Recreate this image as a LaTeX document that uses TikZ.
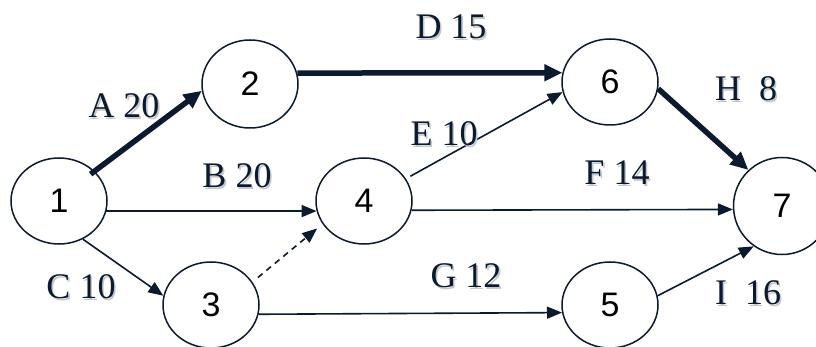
\documentclass[tikz,border=0pt]{standalone}
\usepackage{fontspec}
\setmainfont{Liberation Serif}
\newfontfamily\numfont{Liberation Sans}
\usetikzlibrary{arrows.meta,shapes.geometric,calc}
\definecolor{ink}{HTML}{0B1A2E}
\definecolor{shade}{HTML}{C3C7CE}
\newcommand\elabel[3]{%
  \node[lblsh] (#1s) at ($(#2)+(1.6,1.6)$) {#3};
  \node[lbl] (#1) at (#2) {#3};}
\begin{document}
\begin{tikzpicture}[x=1pt,y=-1pt,
  ev/.style={ellipse,draw=ink,line width=1.5pt,inner sep=0pt,
    minimum width=96pt,minimum height=86pt,
    font=\numfont\fontsize{34}{34}\selectfont,text=black},
  lbl/.style={font=\fontsize{36}{36}\selectfont,text=ink,inner sep=0pt},
  lblsh/.style={lbl,text=shade},
  act/.style={draw=ink,line width=1.6pt,-{Triangle[length=15pt,width=12pt]}},
  crit/.style={draw=ink,line width=5.5pt,-{Triangle[length=18pt,width=16pt]}},
  dummy/.style={act,dash pattern=on 6pt off 5pt}]
\useasboundingbox (0,0) rectangle (816,347);
\clip (0,0) rectangle (816,347);
\fill[white] (0,0) rectangle (816,347);
% events
\node[ev] (n1) at (59,201) {1};
\node[ev,minimum height=88pt] (n2) at (250,84) {2};
\node[ev] (n3) at (211,305) {3};
\node[ev] (n4) at (364,201) {4};
\node[ev] (n5) at (610,305) {5};
\node[ev] (n6) at (610,82) {6};
\node[ev,minimum width=97pt,minimum height=97pt] (n7) at (782,206) {7};
% activities
\draw[crit,shorten <=-5pt] (n1.40) -- (n2.188);
\draw[act] (n1.-12) -- (n4.192);
\draw[act] (n1.-58) -- (n3.169);
\draw[dummy,shorten <=7pt,shorten >=7pt] (n3.29) -- (n4.209);
\draw[act] (n3.-11) -- (n5.189.5);
\draw[crit] (n2.13) -- (n6.169);
\draw[act,shorten <=5pt] (n4.28) -- (n6.192);
\draw[act] (n4.-11) -- (n7.184.7);
\draw[crit] (n6.-8) -- (n7.133);
\draw[act] (n5.11) -- (n7.235);
% labels
\elabel{lA}{124,106}{A 20}
\elabel{lB}{237,176}{B 20}
\elabel{lC}{81,287}{C 10}
\elabel{lD}{451,27}{D 15}
\elabel{lE}{444,134}{E 10}
\elabel{lF}{617,173}{F 14}
\elabel{lG}{466,276}{G 12}
\elabel{lH}{746,89}{H\ \ 8}
\elabel{lI}{748,293}{I\ \ 16}
\end{tikzpicture}
\end{document}
